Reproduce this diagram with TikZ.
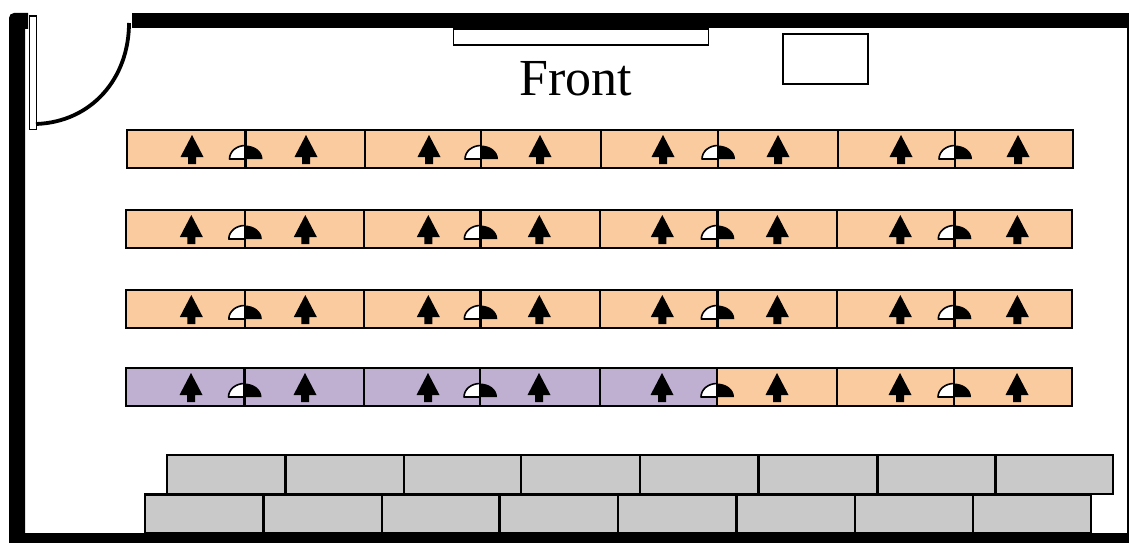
\documentclass[tikz,border=0pt]{standalone}
\usepackage{fontspec}
\setmainfont{Liberation Serif}
\definecolor{deskorange}{HTML}{FBCBA0}
\definecolor{deskpurple}{HTML}{BFB0D2}
\definecolor{benchgray}{HTML}{C9C9C9}
\tikzset{
  desk/.style={draw=black,line width=2pt,fill=#1},
  bench/.style={draw=black,line width=2.2pt,fill=benchgray},
  arrowseat/.pic={
    \fill[black] (-11.5,0) -- (0,-22) -- (11.5,0) -- (4,0) -- (4,7) -- (-4,7) -- (-4,0) -- cycle;
  },
  lamp/.pic={
    \fill[white] (-16,0) .. controls (-16,-7.5) and (-9,-13.5) .. (0,-13.5) -- (0,0) -- cycle;
    \draw[black,line width=1.6pt,line join=round] (0,0) -- (-16,0) .. controls (-16,-7.5) and (-9,-13.5) .. (0,-13.5);
    \fill[black] (0,0) -- (0,-13.5) .. controls (9.5,-13.5) and (17,-7.5) .. (17,0) -- cycle;
  },
}
\begin{document}
\begin{tikzpicture}[x=1pt,y=-1pt]
\useasboundingbox (0,0) rectangle (1129,543);
% walls
\fill[black] (132,13) rectangle (1129,28);
\fill[black] (28,13) -- (14,13) arc[start angle=90,end angle=180,radius=5pt] -- (9,543) -- (25,543) -- (25,29) -- (28,29) -- cycle;
\fill[black] (9,533) rectangle (1129,543);
\fill[black] (1127,13) rectangle (1129,543);
% door
\node[draw=black,fill=white,line width=1.8pt,minimum width=7pt,minimum height=113pt,inner sep=0pt,anchor=north west] (leaf) at (28.5,15.5) {};
\draw[black,line width=3.8pt] (36,124) .. controls (92,122) and (129,78) .. (129,23);
% board and box
\node[draw=black,fill=white,line width=1.6pt,minimum width=255pt,minimum height=16pt,inner sep=0pt,anchor=north west] (board) at (452.5,28) {};
\node[draw=black,fill=white,line width=1.6pt,minimum width=85pt,minimum height=50pt,inner sep=0pt,anchor=north west] (box) at (782,33) {};
\node[font=\fontsize{52}{52}\selectfont,anchor=base] (front) at (575.5,95) {Front};
% desk rows
\foreach \dx/\dy in {0/0,-0.7/80,-0.7/160,-1/238}{
  \begin{scope}[shift={(\dx,\dy)}]
    \foreach \a/\b in {127/246,246/365,365/481,481/601,601/718,718/838,838/955,955/1073}{
      \draw[desk=deskorange] (\a,130) rectangle (\b,168);
    }
    \ifdim \dy pt=238pt
      \foreach \a/\b in {127/246,246/365,365/481,481/601,601/718}{
        \draw[desk=deskpurple] (\a,130) rectangle (\b,168);
      }
    \fi
    \foreach \x in {192,306,429,540,663,778,901,1018}{
      \pic at (\x,157) {arrowseat};
    }
    \foreach \x in {245.5,481,718,955}{
      \pic at (\x,159) {lamp};
    }
    \foreach \x in {245.5,481,718,955}{
      \draw[black,line width=2.6pt] (\x,130) -- (\x,168);
    }
  \end{scope}
}
% benches
\foreach \a/\b in {167/285.5,285.5/404,404/521,521/640,640/758.5,758.5/877.5,877.5/995.5,995.5/1113}{
  \draw[bench] (\a,455) rectangle (\b,494);
}
\foreach \a/\b in {145/263.5,263.5/382,382/499.5,499.5/618,618/736.5,736.5/855,855/973,973/1091}{
  \draw[bench] (\a,494.5) rectangle (\b,533);
}
\end{tikzpicture}
\end{document}
